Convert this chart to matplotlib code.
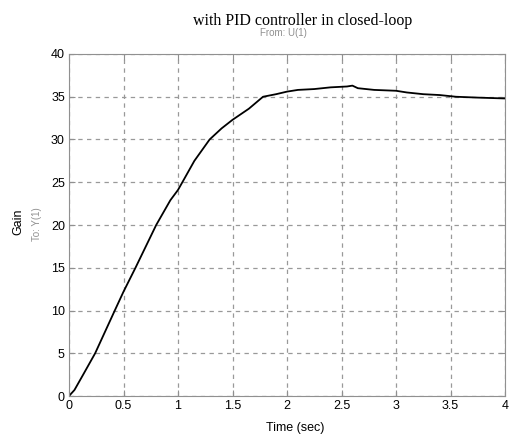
import matplotlib
matplotlib.use("Agg")
import matplotlib.pyplot as plt

time_s = [0, 0.05, 0.13, 0.24, 0.42, 0.5, 0.61, 0.80, 0.93, 1.0, 1.04, 1.15, 1.29, 1.4,
          1.5, 1.65, 1.78, 1.9, 2.0, 2.1, 2.25, 2.4, 2.55, 2.6, 2.65, 2.8, 3.0, 3.1,
          3.25, 3.4, 3.55, 3.75, 4.0]
gain = [0, 0.7, 2.5, 5, 10, 12.2, 15, 20, 22.9, 24.1, 25, 27.5, 30, 31.3,
        32.3, 33.6, 35, 35.3, 35.6, 35.8, 35.9, 36.1, 36.2, 36.3, 36.0, 35.8, 35.7, 35.5,
        35.3, 35.2, 35.0, 34.9, 34.8]
xticks = [0, 0.5, 1, 1.5, 2, 2.5, 3, 3.5, 4]
xticklabels = ["0", "0.5", "1", "1.5", "2", "2.5", "3", "3.5", "4"]
yticks = [0, 5, 10, 15, 20, 25, 30, 35, 40]

plt.rcParams['font.family'] = ['Liberation Sans', 'DejaVu Sans']
fig = plt.figure(figsize=(5.12, 4.36), dpi=100)
ax = fig.add_axes([69/512, 1-396/436, (505-69)/512, (396-54)/436])
ax.plot(time_s, gain, color='black', linewidth=1.3)
ax.set_xlim(0, 4)
ax.set_ylim(0, 40)
ax.set_xticks(xticks)
ax.set_xticklabels(xticklabels)
ax.set_yticks(yticks)
ax.grid(True, color='#999999', linestyle=(0, (3.5, 3.5)), linewidth=0.9)
for s in ax.spines.values():
    s.set_color('#909090')
ax.tick_params(direction='in', colors='#909090', labelcolor='black', labelsize=9,
               top=True, right=True, length=4, pad=3)

fig.text(303/512, 1-21/436, "with PID controller in closed-loop", ha='center', va='center',
         family='Liberation Serif', fontsize=11.5)
fig.text(283/512, 1-33/436, "From: U(1)", ha='center', va='center', color='#909090', fontsize=7)
fig.text(295/512, 1-428/436, "Time (sec)", ha='center', va='center', fontsize=9)
fig.text(18/512, 1-222/436, "Gain", ha='center', va='center', rotation=90, fontsize=9)
fig.text(37/512, 1-224/436, "To: Y(1)", ha='center', va='center', rotation=90, color='#909090', fontsize=7)

fig.savefig("out.png", dpi=100)
